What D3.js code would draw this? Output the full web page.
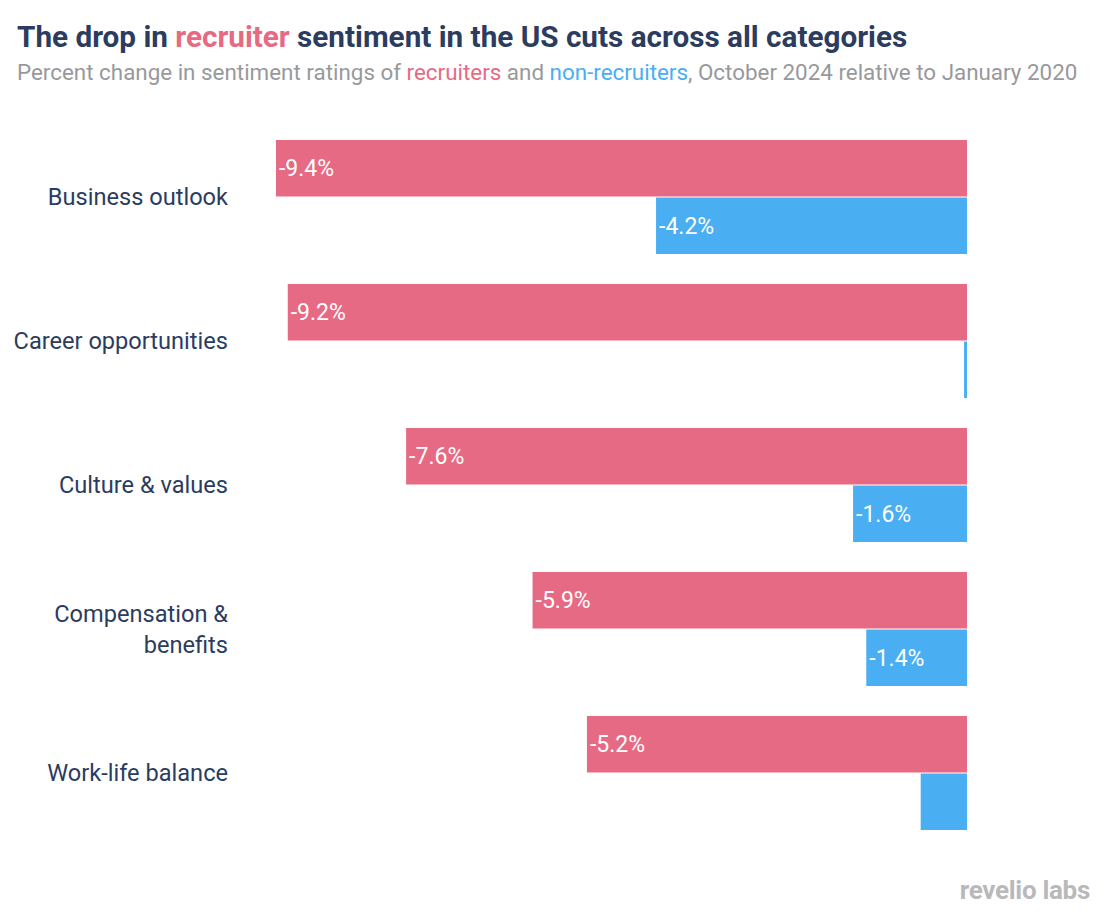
<!DOCTYPE html>
<html><head><meta charset="utf-8">
<script src="https://cdn.jsdelivr.net/npm/d3@7"></script>
<style>body{margin:0;background:#fff;font-family:Roboto,sans-serif;}</style>
</head><body>
<svg id="chart" width="1110" height="922"></svg>
<script>
const categories = ["Business outlook", "Career opportunities", "Culture & values", "Compensation & benefits", "Work-life balance"];
const categoryLines = [["Business outlook"], ["Career opportunities"], ["Culture & values"], ["Compensation &", "benefits"], ["Work-life balance"]];
const seriesNames = ["recruiters", "non-recruiters"];
const recruiters = [-9.4, -9.24, -7.63, -5.91, -5.17];
const nonRecruiters = [-4.23, -0.04, -1.55, -1.37, -0.63];
const showLabel = [[true, true], [true, false], [true, true], [true, true], [true, false]];
const colors = {"recruiters": "#e76a84", "non-recruiters": "#4aaef3"};

const svg = d3.select("#chart");
const navy = "#2c3c5f";

const x = d3.scaleLinear().domain([-9.4, 0]).range([276, 967]);
const y = d3.scaleBand().domain(categories).range([125, 845]).paddingInner(30/144).paddingOuter(15/144);
const ySub = d3.scaleBand().domain(seriesNames).range([0, y.bandwidth()]).paddingInner(2/114);

// title
const title = svg.append("text").attr("x", 17).attr("y", 47)
  .attr("font-size", 29.7).attr("font-weight", 700).attr("fill", navy);
title.append("tspan").text("The drop in ");
title.append("tspan").attr("fill", colors["recruiters"]).text("recruiter");
title.append("tspan").text(" sentiment in the US cuts across all categories");

const sub = svg.append("text").attr("x", 17).attr("y", 80)
  .attr("font-size", 22.4).attr("fill", "#98999b");
sub.append("tspan").text("Percent change in sentiment ratings of ");
sub.append("tspan").attr("fill", colors["recruiters"]).text("recruiters");
sub.append("tspan").text(" and ");
sub.append("tspan").attr("fill", colors["non-recruiters"]).text("non-recruiters");
sub.append("tspan").text(", October 2024 relative to January 2020");

const data = [];
categories.forEach((c, i) => {
  data.push({cat: c, s: "recruiters", v: recruiters[i], show: showLabel[i][0]});
  data.push({cat: c, s: "non-recruiters", v: nonRecruiters[i], show: showLabel[i][1]});
});

const g = svg.append("g");
g.selectAll("rect").data(data).join("rect")
  .attr("x", d => x(d.v))
  .attr("width", d => x(0) - x(d.v))
  .attr("y", d => y(d.cat) + ySub(d.s))
  .attr("height", ySub.bandwidth())
  .attr("fill", d => colors[d.s]);

g.selectAll("text.val").data(data.filter(d => d.show)).join("text")
  .attr("class", "val")
  .attr("x", d => x(d.v) + 3)
  .attr("y", d => y(d.cat) + ySub(d.s) + ySub.bandwidth() / 2)
  .attr("dy", "0.35em")
  .attr("font-size", 23).attr("fill", "#fff")
  .text(d => d.v.toFixed(1) + "%");

// category labels
categories.forEach((c, i) => {
  const lines = categoryLines[i];
  const cy = y(c) + y.bandwidth() / 2;
  const lh = 31;
  const t = svg.append("text").attr("text-anchor", "end").attr("font-size", 23.6).attr("fill", navy);
  lines.forEach((l, j) => {
    t.append("tspan").attr("x", 228)
      .attr("y", cy + (j - (lines.length - 1) / 2) * lh)
      .attr("dy", "0.35em").text(l);
  });
});

// logo
svg.append("text").attr("x", 1090).attr("y", 899).attr("text-anchor", "end")
  .attr("font-size", 26).attr("font-weight", 700).attr("fill", "#b9b9bb")
  .attr("letter-spacing", -0.3).text("revelio labs");
</script>
</body></html>
